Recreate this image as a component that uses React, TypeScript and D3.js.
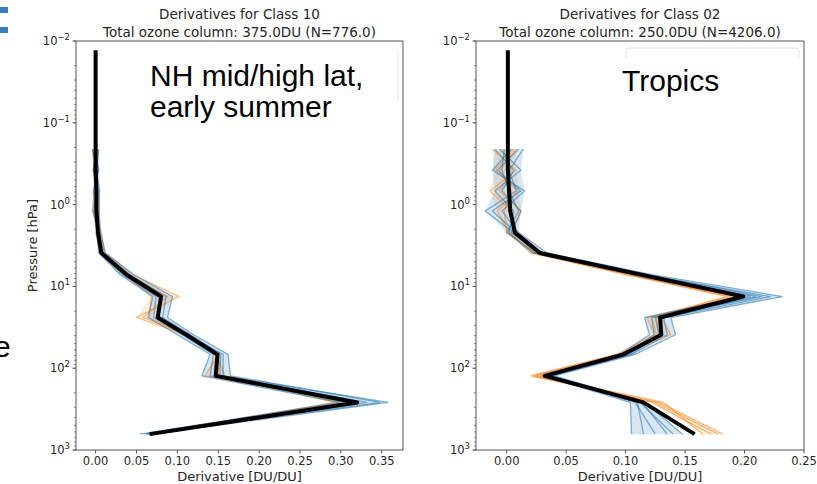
import React from 'react';
import * as d3 from 'd3';

// pressure levels [hPa], shared by both panels
const pressure = [0.013, 0.21, 0.38, 0.68, 1.2, 2.2, 3.9, 7.2, 13.3, 24, 39, 68, 124, 262, 640];

// class 10 : NH mid/high lat, early summer
const class10Mean = [0, 0, 0, 0.001, 0.001, 0.003, 0.007, 0.038, 0.080, 0.076, 0.111, 0.149, 0.147, 0.320, 0.066];
const class10Blue = [
  [null, 0.002, -0.003, 0.003, -0.002, 0.004, 0.010, 0.042, 0.086, 0.082, 0.116, 0.153, 0.152, 0.332, 0.068],
  [null, -0.003, 0.003, -0.002, 0.003, 0.001, 0.005, 0.033, 0.074, 0.071, 0.106, 0.144, 0.140, 0.306, 0.060],
  [null, 0.004, 0.001, 0.005, 0.004, 0.006, 0.012, 0.047, 0.094, 0.088, 0.120, 0.162, 0.165, 0.348, 0.063],
  [null, -0.004, 0.002, 0.000, -0.003, 0.002, 0.004, 0.030, 0.070, 0.064, 0.100, 0.140, 0.130, 0.298, 0.054],
  [null, 0.001, -0.002, 0.002, 0.001, 0.003, 0.008, 0.040, 0.079, 0.078, 0.112, 0.156, 0.156, 0.358, 0.067],
  [null, -0.001, 0.004, -0.003, 0.000, 0.002, 0.006, 0.036, 0.082, 0.074, 0.108, 0.148, 0.145, 0.318, 0.065],
];
const class10Orange = [
  [null, 0.000, 0.003, -0.002, -0.004, 0.007, 0.011, 0.046, 0.102, 0.050, 0.110, 0.148, 0.158, 0.292, 0.064],
  [null, -0.004, -0.001, 0.003, 0.005, 0.000, 0.006, 0.035, 0.068, 0.066, 0.108, 0.150, 0.134, 0.314, 0.066],
  [null, 0.003, -0.003, 0.001, 0.002, 0.005, 0.009, 0.041, 0.088, 0.058, 0.114, 0.152, 0.150, 0.300, 0.065],
];

// class 02 : tropics
const class02Mean = [0.001, 0.001, 0.001, 0.002, 0.003, 0.007, 0.028, 0.113, 0.199, 0.129, 0.130, 0.098, 0.032, 0.115, 0.158];
const class02Blue = [
  [null, 0.010, -0.008, 0.012, -0.012, 0.008, 0.030, 0.118, 0.215, 0.125, 0.128, 0.102, 0.036, 0.112, 0.140],
  [null, -0.006, 0.012, -0.010, 0.006, 0.002, 0.022, 0.108, 0.205, 0.122, 0.124, 0.100, 0.033, 0.108, 0.125],
  [null, 0.004, -0.012, 0.015, -0.004, 0.010, 0.034, 0.122, 0.232, 0.138, 0.142, 0.108, 0.040, 0.116, 0.148],
  [null, -0.010, 0.006, -0.004, 0.012, 0.004, 0.026, 0.112, 0.198, 0.116, 0.120, 0.095, 0.030, 0.104, 0.105],
  [null, 0.014, 0.002, 0.008, -0.018, 0.006, 0.028, 0.115, 0.222, 0.132, 0.135, 0.105, 0.038, 0.114, 0.135],
  [null, -0.002, -0.004, 0.002, 0.010, 0.000, 0.024, 0.110, 0.210, 0.128, 0.130, 0.104, 0.034, 0.110, 0.115],
];
const class02Orange = [
  [null, -0.012, 0.008, -0.014, 0.004, 0.006, 0.024, 0.104, 0.188, 0.126, 0.128, 0.094, 0.022, 0.122, 0.172],
  [null, 0.006, -0.010, 0.010, -0.008, 0.002, 0.020, 0.100, 0.192, 0.118, 0.124, 0.092, 0.020, 0.128, 0.182],
  [null, -0.004, 0.004, -0.006, 0.012, 0.004, 0.026, 0.108, 0.196, 0.130, 0.138, 0.098, 0.026, 0.132, 0.165],
  [null, 0.008, -0.006, 0.004, -0.002, 0.000, 0.022, 0.102, 0.185, 0.122, 0.126, 0.096, 0.024, 0.125, 0.178],
];

const ticks10 = [0, 0.05, 0.1, 0.15, 0.2, 0.25, 0.3, 0.35];
const ticks02 = [0, 0.05, 0.1, 0.15, 0.2, 0.25];

const FONT = 'DejaVu Sans, sans-serif';
const BLUE = '#1f77b4';
const ORANGE = '#ff7f0e';

const Panel = ({ left, right, top, bottom, xDomain, xTicks, title1, title2, mean, blue, orange, yLabel }) => {
  const x = d3.scaleLinear().domain(xDomain).range([left, right]);
  const y = d3.scaleLog().domain([0.01, 1000]).range([top, bottom]);

  const line = d3.line()
    .defined(d => d != null)
    .x(d => x(d))
    .y((d, i) => y(pressure[i]));

  // envelope of the members, drawn faint under the single lines
  const band = (members) => {
    const rows = pressure.map((p, i) => ({
      p,
      lo: d3.min(members, m => m[i]),
      hi: d3.max(members, m => m[i]),
    }));
    return d3.area()
      .defined(d => d.lo != null)
      .y(d => y(d.p))
      .x0(d => x(d.lo))
      .x1(d => x(d.hi))(rows);
  };

  const minus = '\u2212';

  return (
    <g>
      <path d={band(orange)} fill={ORANGE} opacity={0.13} />
      <path d={band(blue)} fill={BLUE} opacity={0.18} />
      {orange.map((m, k) => (
        <path key={'o' + k} d={line(m)} fill="none" stroke={ORANGE} strokeWidth={1.3} opacity={0.5} />
      ))}
      {blue.map((m, k) => (
        <path key={'b' + k} d={line(m)} fill="none" stroke={BLUE} strokeWidth={1.3} opacity={0.55} />
      ))}
      <path d={line(mean)} fill="none" stroke="#000" strokeWidth={4} strokeLinejoin="round" />

      <rect x={left} y={top} width={right - left} height={bottom - top} fill="none" stroke="#555" strokeWidth={1} />

      {y.ticks().map((t, i) => (
        <line key={'m' + i} x1={left} x2={left - 2} y1={y(t)} y2={y(t)} stroke="#555" strokeWidth={0.7} />
      ))}
      {[-2, -1, 0, 1, 2, 3].map(e => (
        <g key={'d' + e}>
          <line x1={left} x2={left - 3.5} y1={y(Math.pow(10, e))} y2={y(Math.pow(10, e))} stroke="#555" />
          <text x={left - 6} y={y(Math.pow(10, e)) + 4} textAnchor="end" fontFamily={FONT} fontSize={11.5} fill="#262626">
            10<tspan dy={-5} fontSize={8.5}>{e < 0 ? minus + Math.abs(e) : e}</tspan>
          </text>
        </g>
      ))}

      {xTicks.map(t => (
        <g key={'x' + t}>
          <line x1={x(t)} x2={x(t)} y1={bottom} y2={bottom + 3.5} stroke="#555" />
          <text x={x(t)} y={bottom + 14.5} textAnchor="middle" fontFamily={FONT} fontSize={11.5} fill="#262626">
            {d3.format('.2f')(t)}
          </text>
        </g>
      ))}
      <text x={(left + right) / 2} y={bottom + 30.5} textAnchor="middle" fontFamily={FONT} fontSize={13} fill="#262626">
        Derivative [DU/DU]
      </text>
      {yLabel && (
        <text transform={`translate(${left - 39},${(top + bottom) / 2}) rotate(-90)`} textAnchor="middle"
          fontFamily={FONT} fontSize={13} fill="#262626">
          {yLabel}
        </text>
      )}

      <text x={(left + right) / 2} y={top - 22} textAnchor="middle" fontFamily={FONT} fontSize={13.5} fill="#262626">{title1}</text>
      <text x={(left + right) / 2} y={top - 4} textAnchor="middle" fontFamily={FONT} fontSize={13.5} fill="#262626">{title2}</text>
    </g>
  );
};

export default function App() {
  return (
    <svg width={817} height={484} style={{ position: 'absolute', left: 0, top: 0, background: '#fff' }}>
      <rect x={0} y={0} width={817} height={484} fill="#fff" />
      {/* slide decoration */}
      <rect x={0} y={7} width={8} height={6} fill="#3a7cc2" />
      <rect x={0} y={27} width={8} height={6} fill="#3a7cc2" />
      <text x={-6} y={357} fontFamily="Liberation Sans, Arial, sans-serif" fontSize={30} fill="#000">e</text>

      <Panel left={76} right={403} top={41} bottom={450} xDomain={[-0.024, 0.376]} xTicks={ticks10}
        title1="Derivatives for Class 10" title2="Total ozone column: 375.0DU (N=776.0)"
        mean={class10Mean} blue={class10Blue} orange={class10Orange} yLabel="Pressure [hPa]" />
      <Panel left={476} right={804} top={41} bottom={450} xDomain={[-0.0258, 0.25]} xTicks={ticks02}
        title1="Derivatives for Class 02" title2="Total ozone column: 250.0DU (N=4206.0)"
        mean={class02Mean} blue={class02Blue} orange={class02Orange} yLabel={null} />

      {/* faint legend frames peeking from behind the text boxes */}
      <line x1={398} x2={398} y1={50} y2={100} stroke="#e6e6e6" />
      <path d="M626,58 L626,51 Q626,48 629,48 L796,48 Q799,48 799,51 L799,58" fill="none" stroke="#e3e3e3" />

      <text x={150} y={86} fontFamily="Liberation Sans, Arial, sans-serif" fontSize={30} fill="#000">NH mid/high lat,</text>
      <text x={150} y={117} fontFamily="Liberation Sans, Arial, sans-serif" fontSize={30} fill="#000">early summer</text>
      <text x={622} y={91} fontFamily="Liberation Sans, Arial, sans-serif" fontSize={30} fill="#000">Tropics</text>
    </svg>
  );
}
